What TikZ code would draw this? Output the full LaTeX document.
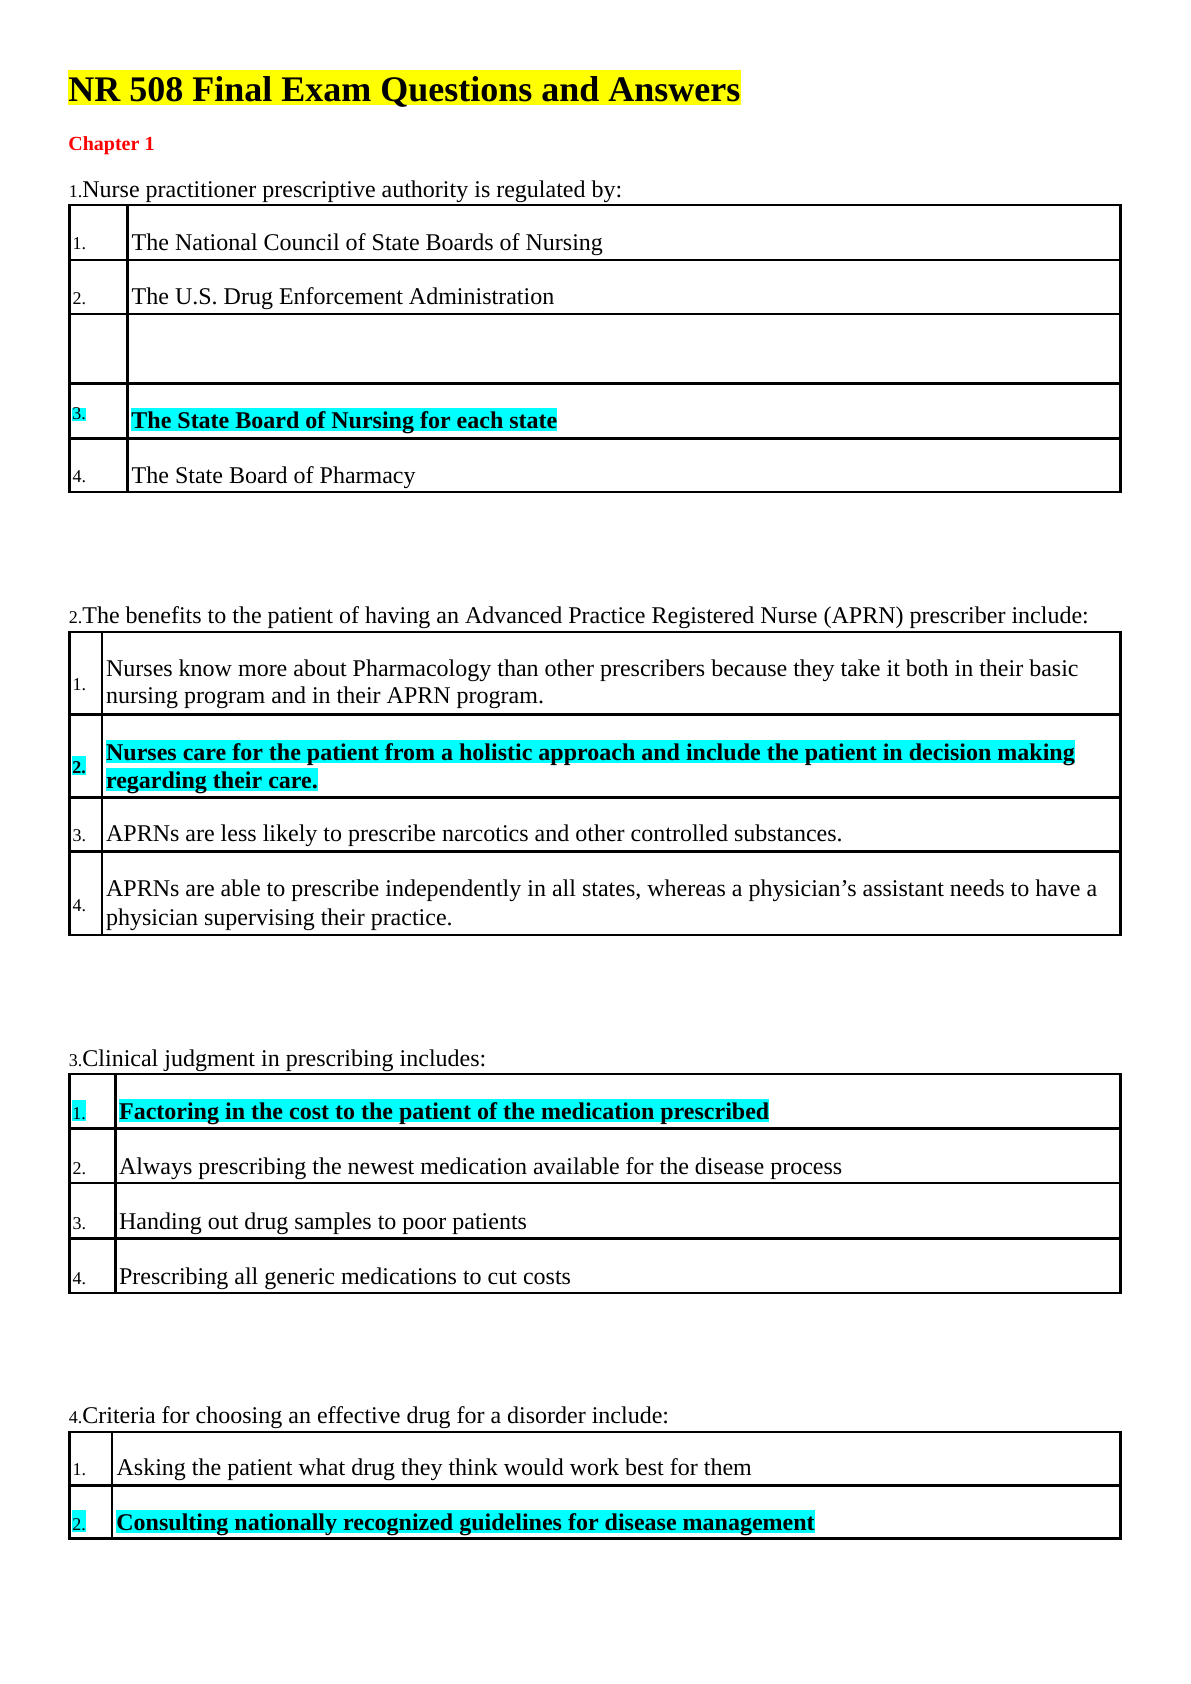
\documentclass[tikz,border=0pt]{standalone}
\usepackage{fontspec}
\setmainfont{Liberation Serif}
\definecolor{aqua}{HTML}{00FFFF}
\definecolor{marker}{HTML}{FFFF00}
\definecolor{chapred}{HTML}{FF0000}
\newcommand\bodyfont{\fontsize{12bp}{14bp}\selectfont}
\newcommand\numfont{\fontsize{9bp}{11bp}\selectfont}
\tikzset{
  cell/.style={anchor=base west, inner sep=0pt, font=\bodyfont},
  num/.style={anchor=base west, inner sep=0pt, font=\numfont},
  hl/.style={fill=aqua, text height=10.25bp, text depth=1.5bp},
  hlnum/.style={fill=aqua, text height=#1, text depth=1bp},
  grid/.style={line width=1.3bp},
}
\begin{document}
\begin{tikzpicture}[x=0.5bp,y=-0.5bp]
            \useasboundingbox (0,0) rectangle (1191,1684);

            % Heading
            \node[anchor=base west, inner sep=0pt, fill=marker, text height=15.85bp, text depth=1.8bp,
                  font=\fontsize{18bp}{21bp}\selectfont\bfseries] (title) at (68,101.7) {NR 508 Final Exam Questions and Answers};
            \node[anchor=base west, inner sep=0pt, text=chapred, font=\fontsize{10bp}{12bp}\selectfont\bfseries] (chap) at (68,150) {Chapter 1};

            % Question 1
            \node[cell] (q1) at (68.5,197.3) {{\numfont 1.}Nurse practitioner prescriptive authority is regulated by:};
            \draw[grid] (69.3,205) rectangle (1120.7,492);
            \foreach \y in {260,314,383.5,438.5}
              \draw[grid] (69.3,\y) -- (1120.7,\y);
            \draw[grid] (127.3,205) -- (127.3,492);
            \node[num] (n11) at (72.3,249.5) {1.};
            \node[cell] (a11) at (131.3,250.5) {The National Council of State Boards of Nursing};
            \node[num] (n12) at (72.3,304) {2.};
            \node[cell] (a12) at (131.3,304) {The U.S. Drug Enforcement Administration};
            \node[num, hlnum=5.5bp] (n13) at (72,419.3) {3.\hspace{1bp}};
            \node[cell, hl, font=\bodyfont\bfseries] (a13) at (131,428) {The State Board of Nursing for each state};
            \node[num] (n14) at (72.3,482) {4.};
            \node[cell] (a14) at (131.3,483) {The State Board of Pharmacy};

            % Question 2
            \node[cell] (q2) at (68.5,623.3) {{\numfont 2.}The benefits to the patient of having an Advanced Practice Registered Nurse (APRN) prescriber include:};
            \draw[grid] (69.3,632) rectangle (1120.7,935);
            \foreach \y in {714.5,797.5,851.7}
              \draw[grid] (69.3,\y) -- (1120.7,\y);
            \draw[grid] (102,632) -- (102,935);
            \node[num] (n21) at (72.3,690) {1.};
            \node[cell] (a21) at (105.7,676.5) {Nurses know more about Pharmacology than other prescribers because they take it both in their basic};
            \node[cell] (a21b) at (105.7,703.5) {nursing program and in their APRN program.};
            \node[num, hlnum=8.8bp, font=\numfont\bfseries] (n22) at (72,773.3) {2.\hspace{1bp}};
            \node[cell, hl, font=\bodyfont\bfseries] (a22) at (105.7,760) {Nurses care for the patient from a holistic approach and include the patient in decision making\ };
            \node[cell, hl, font=\bodyfont\bfseries] (a22b) at (105.7,788) {regarding their care.};
            \node[num] (n23) at (72.3,841.7) {3.};
            \node[cell] (a23) at (105.7,841.7) {APRNs are less likely to prescribe narcotics and other controlled substances.};
            \node[num] (n24) at (72.3,911) {4.};
            \node[cell] (a24) at (105.7,896.7) {APRNs are able to prescribe independently in all states, whereas a physician’s assistant needs to have a};
            \node[cell] (a24b) at (105.7,925) {physician supervising their practice.};

            % Question 3
            \node[cell] (q3) at (68.5,1066) {{\numfont 3.}Clinical judgment in prescribing includes:};
            \draw[grid] (69.3,1074) rectangle (1120.7,1292.8);
            \foreach \y in {1128.5,1183,1238.3}
              \draw[grid] (69.3,\y) -- (1120.7,\y);
            \draw[grid] (115.3,1074) -- (115.3,1292.8);
            \node[num, hlnum=9.65bp] (n31) at (72,1119.3) {1.\hspace{1bp}};
            \node[cell, hl, font=\bodyfont\bfseries] (a31) at (118.7,1119.3) {Factoring in the cost to the patient of the medication prescribed};
            \node[num] (n32) at (72.3,1174.5) {2.};
            \node[cell] (a32) at (118.7,1174.5) {Always prescribing the newest medication available for the disease process};
            \node[num] (n33) at (72.3,1229) {3.};
            \node[cell] (a33) at (118.7,1229) {Handing out drug samples to poor patients};
            \node[num] (n34) at (72.3,1284.1) {4.};
            \node[cell] (a34) at (118.7,1284.1) {Prescribing all generic medications to cut costs};

            % Question 4
            \node[cell] (q4) at (68.5,1423.3) {{\numfont 4.}Criteria for choosing an effective drug for a disorder include:};
            \draw[grid] (69.3,1432) rectangle (1120.7,1538.3);
            \draw[grid] (69.3,1485.7) -- (1120.7,1485.7);
            \draw[grid] (112,1432) -- (112,1538.3);
            \node[num] (n41) at (72.3,1475) {1.};
            \node[cell] (a41) at (116.2,1475) {Asking the patient what drug they think would work best for them};
            \node[num, hlnum=10bp] (n42) at (72,1530) {2.\hspace{1bp}};
            \node[cell, hl, font=\bodyfont\bfseries] (a42) at (116,1530) {Consulting nationally recognized guidelines for disease management};
\end{tikzpicture}
\end{document}
